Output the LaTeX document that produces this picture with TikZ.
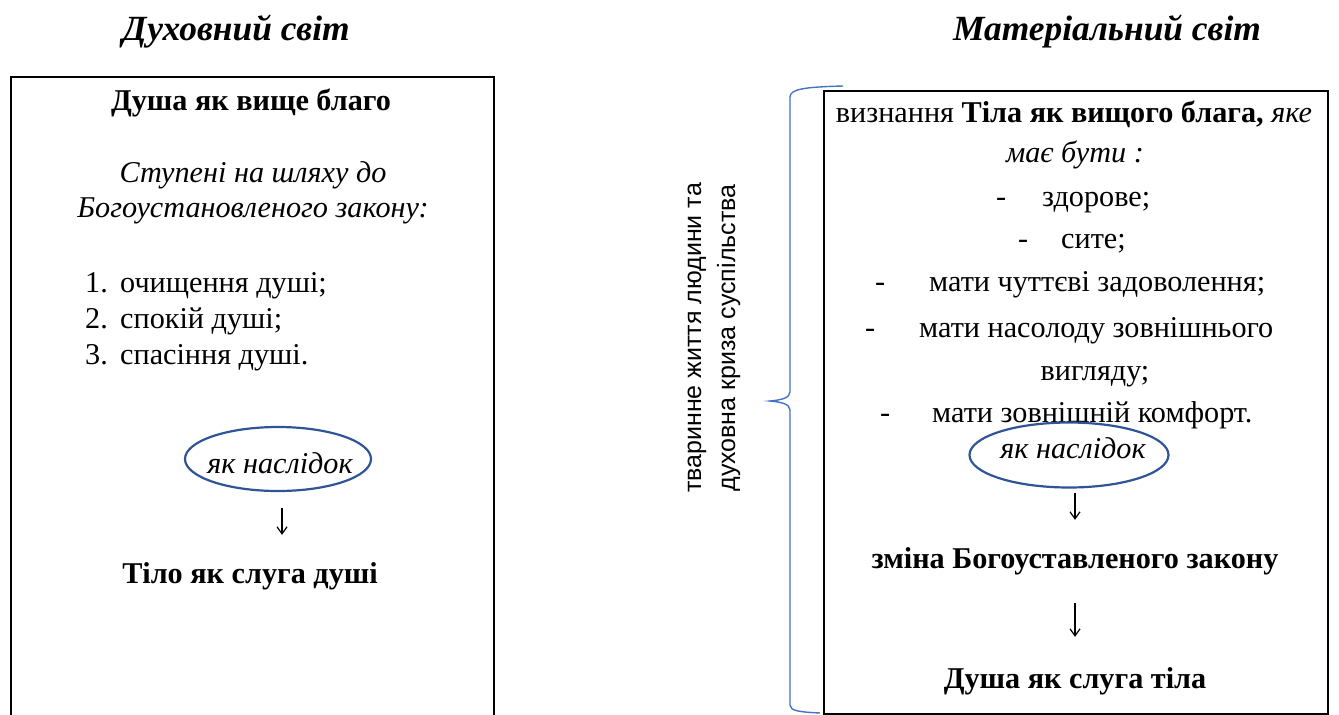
\documentclass[tikz,border=0pt]{standalone}
\usepackage{fontspec}
\setmainfont{Liberation Serif}
\newfontfamily\arialf{Liberation Sans}
\usetikzlibrary{shapes.geometric,arrows.meta}
\definecolor{ellblue}{HTML}{2F5597}
\definecolor{braceblue}{HTML}{4472C4}
\newcommand{\bodysize}{\fontsize{30.2}{36}\selectfont}
\begin{document}
\begin{tikzpicture}[x=1pt,y=-1pt,
  txt/.style={inner sep=0pt, anchor=base, font=\bodysize},
  txtw/.style={txt, anchor=base west},
  txtb/.style={txt, font=\bodysize\bfseries},
  txti/.style={txt, font=\bodysize\itshape},
  ttl/.style={inner sep=0pt, anchor=base, font=\fontsize{35.4}{40}\selectfont\bfseries\itshape},
  ell/.style={draw=ellblue, line width=2.2pt, ellipse, inner sep=0pt},
  arr/.style={line width=1.2pt, -{Straight Barb[length=7pt,width=10pt,line width=1.2pt]}},
  boxline/.style={line width=2pt, draw=black},
  bracestyle/.style={draw=braceblue, line width=1.4pt},
  vert/.style={inner sep=0pt, rotate=90, align=center, font=\arialf\fontsize{25}{34}\selectfont}
]
\useasboundingbox (0,0) rectangle (1339,715);

% titles
\node[ttl] (t1) at (236,40) {Духовний світ};
\node[ttl] (t2) at (1107,40) {Матеріальний світ};

% left box (open at bottom)
\draw[boxline] (11,716) -- (11,77) -- (494,77) -- (494,716);

\node[txtb] (l1) at (251,110) {Душа як вище благо};
\node[txti] (l2) at (253,182) {Ступені на шляху до};
\node[txti] (l3) at (253,217) {Богоустановленого закону:};
\node[txtw] (n1) at (85,292) {1.};
\node[txtw] (i1) at (120,292) {очищення душі;};
\node[txtw] (n2) at (85,328) {2.};
\node[txtw] (i2) at (120,328) {спокій душі;};
\node[txtw] (n3) at (85,364) {3.};
\node[txtw] (i3) at (120,364) {спасіння душі.};

\node[ell, minimum width=186, minimum height=64] (e1) at (278,459) {};
\node[txti] (e1t) at (280,473) {як наслідок};
\node[txtb] (lres) at (250,583) {Тіло як слуга душі};
\draw[arr, shorten <=16pt, shorten >=27pt] ([xshift=4pt]e1.south) -- ([xshift=4pt]e1.south |- lres.north);

% brace
\draw[bracestyle] (843,86) .. controls (805,87) and (790,89) .. (790,97)
  -- (790,392) .. controls (790,398) and (781,400) .. (770,401)
  .. controls (781,402) and (790,404) .. (790,410)
  -- (790,705) .. controls (790,711) and (800,712) .. (820,713);

\node[vert] (vt) at (714,338) {тваринне життя людини та\\духовна криза суспільства};

% right box
\node[boxline, draw, minimum width=504, minimum height=623, anchor=north west, inner sep=0pt] (rbox) at (823,90) {};

\node[txt] (r1) at (1074,122) {визнання \textbf{Тіла як вищого блага,} \textit{яке}};
\node[txti] (r2) at (1075,162) {має бути :};
\node[txtw] (d1) at (996,206) {-};
\node[txtw] (b1) at (1042,206) {здорове;};
\node[txtw] (d2) at (1018,248) {-};
\node[txtw] (b2) at (1061,248) {сите;};
\node[txtw] (d3) at (875,291) {-};
\node[txtw] (b3) at (929,291) {мати чуттєві задоволення;};
\node[txtw] (d4) at (865,337) {-};
\node[txtw] (b4) at (919,337) {мати насолоду зовнішнього};
\node[txt] (b4b) at (1095,380) {вигляду;};
\node[txtw] (d5) at (880,422) {-};
\node[txtw] (b5) at (932,422) {мати зовнішній комфорт.};

\node[ell, minimum width=199, minimum height=65] (e2) at (1069,455) {};
\node[txti] (e2t) at (1073,458) {як наслідок};
\node[txtb] (r3) at (1075,568) {зміна Богоуставленого закону};
\node[txtb] (r4) at (1075,688) {Душа як слуга тіла};
\draw[arr, shorten <=4pt, shorten >=27pt] ([xshift=6pt]e2.south) -- ([xshift=6pt]e2.south |- r3.north);
\draw[arr, shorten <=35pt, shorten >=30pt] (r3.base) -- (r4.north);
\end{tikzpicture}
\end{document}
